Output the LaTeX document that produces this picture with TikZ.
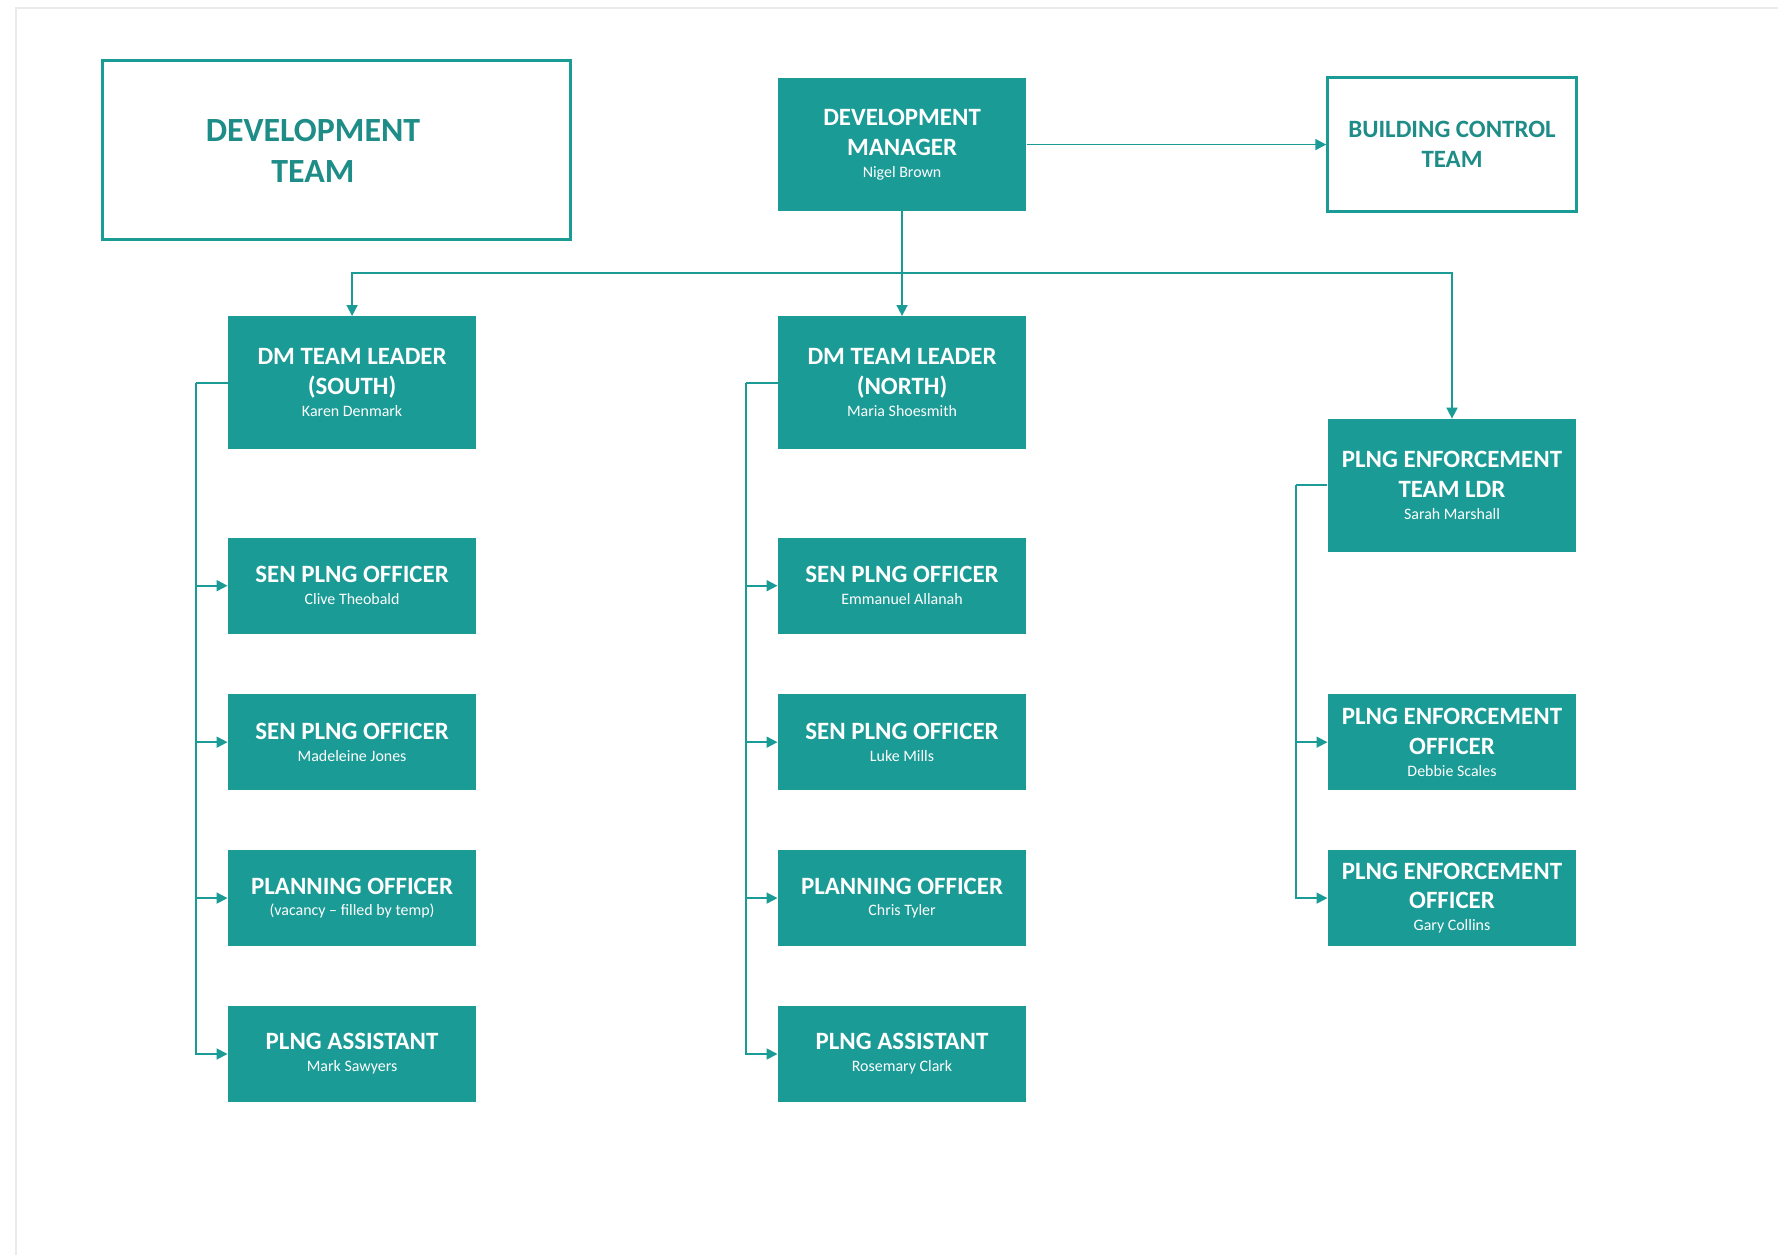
\documentclass[tikz,border=0pt]{standalone}
\usepackage{fontspec}
\setmainfont{Carlito}
\usepackage{xcolor}
\definecolor{dtteal}{RGB}{26,155,150}
\definecolor{dtdark}{RGB}{30,140,135}
\definecolor{dtframe}{RGB}{234,234,234}
\usepackage{tikz}
\usetikzlibrary{arrows.meta, positioning}

\tikzset{
  rolebox/.style={fill=dtteal, text=white, minimum width=4.38cm, inner sep=2pt,
    align=center, font=\fontsize{12.5}{15}\selectfont\bfseries},
  tallbox/.style={rolebox, minimum height=2.34cm},
  shortbox/.style={rolebox, minimum height=1.70cm},
  teambox/.style={draw=dtteal, line width=1.6pt, fill=white},
  linkline/.style={draw=dtteal, line width=0.9pt},
  linkarr/.style={linkline, -{Triangle[length=5.5pt,width=5.5pt]}},
}
\newcommand{\who}[1]{\\[-4pt]{\fontsize{8}{10}\selectfont\mdseries #1}}

\begin{document}
\begin{tikzpicture}[x=0.02cm, y=-0.02cm]
      \useasboundingbox (0,0) rectangle (1568,1107);
      % page edge
      \draw[dtframe, line width=1.2pt] (14,1107) -- (14,7) -- (1568,7);

      % top row
      \node[teambox, minimum width=8.26cm, minimum height=3.16cm] (team) at (296.5,132) {};
      \node[font=\fontsize{17}{20.5}\selectfont\bfseries, text=dtdark, align=center] (teamlbl) at (276,133) {DEVELOPMENT\\TEAM};
      \node[tallbox] (mgr) at (795.5,127.5) {DEVELOPMENT\\MANAGER\who{Nigel Brown}};
      \node[teambox, minimum width=4.38cm, minimum height=2.36cm, align=center, text=dtdark,
        font=\fontsize{12.5}{15}\selectfont\bfseries] (bct) at (1280.5,127.5) {BUILDING CONTROL\\TEAM};

      % south team
      \node[tallbox] (tls) at (310.5,337.5) {DM TEAM LEADER\\(SOUTH)\who{Karen Denmark}};
      \node[shortbox] (sps1) at (310.5,516.5) {SEN PLNG OFFICER\who{Clive Theobald}};
      \node[shortbox] (sps2) at (310.5,654.5) {SEN PLNG OFFICER\who{Madeleine Jones}};
      \node[shortbox] (pos) at (310.5,792) {PLANNING OFFICER\who{(vacancy -- filled by temp)}};
      \node[shortbox] (pas) at (310.5,929.5) {PLNG ASSISTANT\who{Mark Sawyers}};

      % north team
      \node[tallbox] (tln) at (795.5,337.5) {DM TEAM LEADER\\(NORTH)\who{Maria Shoesmith}};
      \node[shortbox] (spn1) at (795.5,516.5) {SEN PLNG OFFICER\who{Emmanuel Allanah}};
      \node[shortbox] (spn2) at (795.5,654.5) {SEN PLNG OFFICER\who{Luke Mills}};
      \node[shortbox] (pon) at (795.5,792) {PLANNING OFFICER\who{Chris Tyler}};
      \node[shortbox] (pan) at (795.5,929.5) {PLNG ASSISTANT\who{Rosemary Clark}};

      % enforcement team
      \node[tallbox] (pel) at (1280.5,428) {PLNG ENFORCEMENT\\TEAM LDR\who{Sarah Marshall}};
      \node[shortbox] (peo1) at (1280.5,654.5) {PLNG ENFORCEMENT\\OFFICER\who{Debbie Scales}};
      \node[shortbox] (peo2) at (1280.5,792) {PLNG ENFORCEMENT\\OFFICER\who{Gary Collins}};

      % links from the manager
      \coordinate (bus) at (795.5,241);
      \draw[linkarr] (mgr.east) -- (bct.west);
      \draw[linkarr] (mgr.south) -- (tln.north);
      \draw[linkarr] (bus) -| (tls.north);
      \draw[linkarr] (bus) -| (pel.north);

      % team spines
      \coordinate (spineS) at (173,337.5);
      \coordinate (spineN) at (658,337.5);
      \coordinate (spineE) at (1143,428);
      \draw[linkline] (tls.west) -- (spineS);
      \draw[linkline] (tln.west) -- (spineN);
      \draw[linkline] (pel.west) -- (spineE);
      \foreach \n in {sps1,sps2,pos,pas} \draw[linkarr] (spineS) |- (\n.west);
      \foreach \n in {spn1,spn2,pon,pan} \draw[linkarr] (spineN) |- (\n.west);
      \foreach \n in {peo1,peo2} \draw[linkarr] (spineE) |- (\n.west);
    \end{tikzpicture}
\end{document}
